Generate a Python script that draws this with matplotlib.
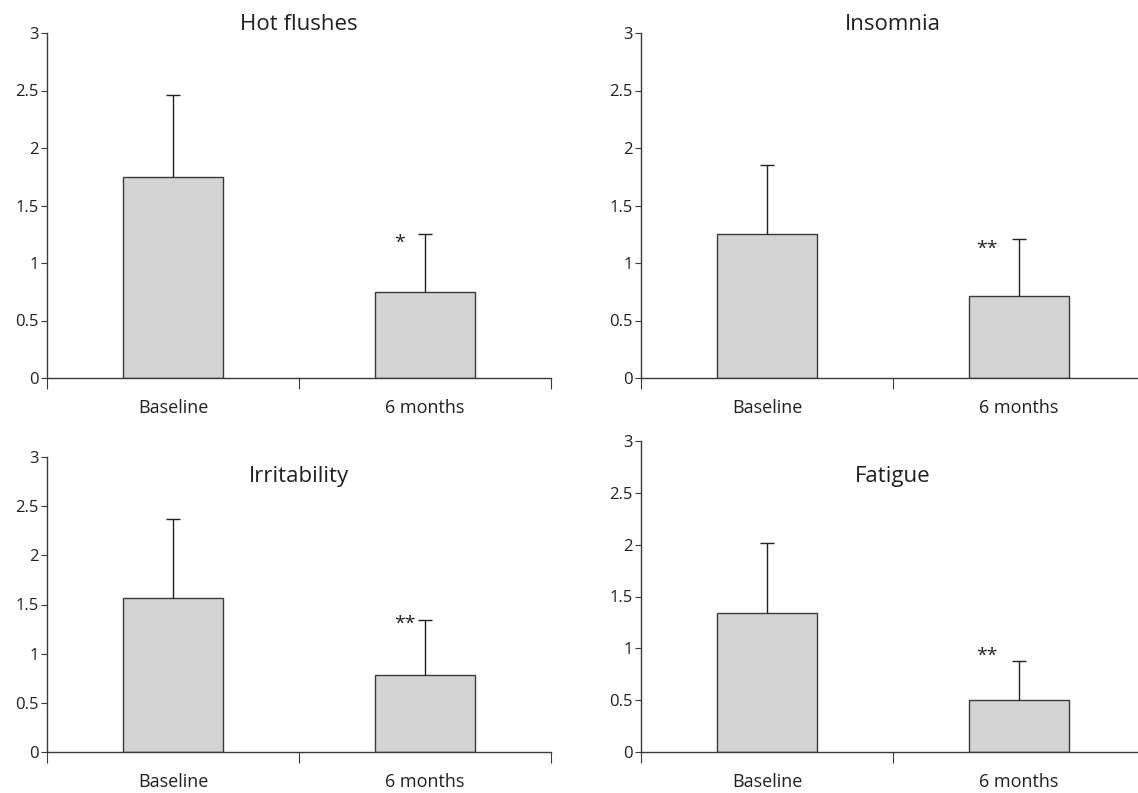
import numpy as np
import matplotlib.pyplot as plt

plt.rcParams['font.family'] = ['Open Sans', 'DejaVu Sans']

# data
groups = ['Baseline', '6 months']
titles = ['Hot flushes', 'Insomnia', 'Irritability', 'Fatigue']
means = [[1.75, 0.75],
         [1.25, 0.71],
         [1.57, 0.78],
         [1.34, 0.50]]
sds = [[0.71, 0.50],
       [0.60, 0.50],
       [0.80, 0.56],
       [0.68, 0.38]]
signif = ['*', '**', '**', '**']
ytick_vals = [0, 0.5, 1, 1.5, 2, 2.5, 3]
ytick_labels = ['0', '0.5', '1', '1.5', '2', '2.5', '3']

W, H = 1138, 793
fig = plt.figure(figsize=(W / 100, H / 100), dpi=100)

# axes boxes in pixels: left, top, right, bottom
boxes = [(47, 33, 551, 378),
         (641, 33, 1145, 378),
         (47, 457, 551, 752),
         (641, 441, 1145, 752)]
title_y = [25, 25, 476, 476]
star_off = [(-18, -10), (-23, -10.5), (-14.5, -6.5), (-23, 0)]

ink = '#231f20'
edge = '#3a3a3a'

for i in range(4):
    l, t, r, b = boxes[i]
    ax = fig.add_axes([l / W, (H - b) / H, (r - l) / W, (b - t) / H])
    x = np.arange(len(groups)) + 0.5
    m = np.array(means[i])
    s = np.array(sds[i])
    ax.bar(x, m, width=0.4, color='#d4d4d4', edgecolor=edge, linewidth=1.0, zorder=2)
    _, caps, _ = ax.errorbar(x, m, yerr=[np.zeros_like(s), s], fmt='none', ecolor=ink,
                             elinewidth=1.0, capsize=5, capthick=1.0, zorder=3)
    caps[0].set_visible(False)  # only the upper cap

    ax.set_xlim(0, 2)
    ax.set_ylim(0, 3)
    for sp in ['top', 'right']:
        ax.spines[sp].set_visible(False)
    for sp in ['left', 'bottom']:
        ax.spines[sp].set_color(edge)
        ax.spines[sp].set_linewidth(1.0)

    ax.set_yticks(ytick_vals)
    ax.set_yticklabels(ytick_labels)
    ax.tick_params(axis='y', direction='out', length=4, width=0.8, color=edge,
                   labelsize=12, labelcolor=ink, pad=2)

    ax.set_xticks([0, 1, 2])
    ax.set_xticklabels([])
    ax.set_xticks(x, minor=True)
    ax.set_xticklabels(groups, minor=True)
    ax.tick_params(axis='x', which='major', direction='out', length=8, width=0.8, color=edge)
    ax.tick_params(axis='x', which='minor', length=0, labelsize=13, labelcolor=ink, pad=15)

    cx = (l + r) / 2
    fig.text(cx / W, 1 - title_y[i] / H, titles[i], ha='center', va='center',
             fontsize=16, color=ink)

    ax.annotate(signif[i], xy=(x[1], m[1] + s[1]), xytext=star_off[i],
                textcoords='offset points', ha='center', va='baseline',
                fontsize=14, color=ink)

fig.savefig('out.png', dpi=100)
